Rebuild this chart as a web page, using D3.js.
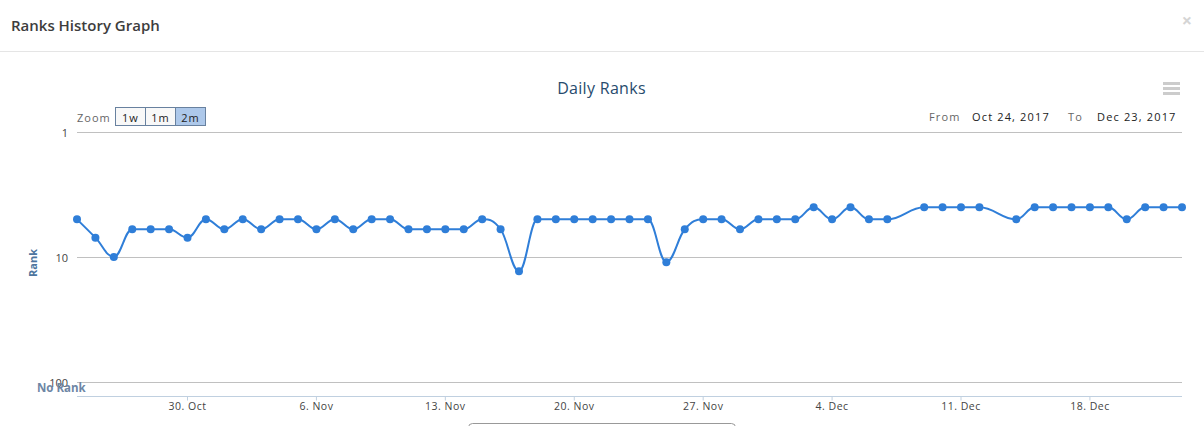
<!DOCTYPE html>
<html>
<head>
<meta charset="utf-8">
<script src="https://cdnjs.cloudflare.com/ajax/libs/d3/7.8.5/d3.min.js"></script>
<style>
  html, body { margin: 0; padding: 0; background: #fff; overflow: hidden; }
  svg { display: block; font-family: "Open Sans", sans-serif; }
</style>
</head>
<body>
<div id="content"></div>
<script>
var startDay = '2017-10-24';
// one value per day from startDay, null = no rank that day
var ranks = [
  5, 7, 10, 6, 6, 6, 7, 5, 6, 5, 6, 5, 5, 6, 5, 6, 5, 5, 6, 6, 6, 6, 5, 6, 13,
  5, 5, 5, 5, 5, 5, 5, 11, 6, 5, 5, 6, 5, 5, 5, 4, 5, 4, 5, 5, null, 4, 4, 4, 4,
  null, 5, 4, 4, 4, 4, 4, 5, 4, 4, 4
];
var tickDays = ['2017-10-30', '2017-11-06', '2017-11-13', '2017-11-20', '2017-11-27', '2017-12-04', '2017-12-11', '2017-12-18'];
var rankTicks = [1, 10, 100];
var zoomButtons = ['1w', '1m', '2m'];

var width = 1204, height = 426;
var svg = d3.select('#content').append('svg')
  .attr('width', width)
  .attr('height', height);

var parseDay = d3.utcParse('%Y-%m-%d');
var points = ranks.map(function(r, i) {
  return { date: d3.utcDay.offset(parseDay(startDay), i), rank: r };
}).filter(function(d) { return d.rank !== null; });

var x = d3.scaleUtc()
  .domain([parseDay(startDay), d3.utcDay.offset(parseDay(startDay), ranks.length - 1)])
  .range([77, 1182]);
var y = d3.scaleLog().domain([1, 100]).range([132, 382]);

// spline the way the original chart smooths its line
function splineCurve(context) {
  var pts;
  return {
    areaStart: function() {},
    areaEnd: function() {},
    lineStart: function() { pts = []; },
    point: function(px, py) { pts.push([+px, +py]); },
    lineEnd: function() {
      var smoothing = 1.5, denom = 2.5;
      var conts = pts.map(function(p, i) {
        var last = pts[i - 1], next = pts[i + 1];
        if (!last || !next) return { lx: p[0], ly: p[1], rx: p[0], ry: p[1] };
        var lx = (smoothing * p[0] + last[0]) / denom, ly = (smoothing * p[1] + last[1]) / denom;
        var rx = (smoothing * p[0] + next[0]) / denom, ry = (smoothing * p[1] + next[1]) / denom;
        var correction = ((ry - ly) * (rx - p[0])) / (rx - lx) + p[1] - ry;
        ly += correction;
        ry += correction;
        if (ly > last[1] && ly > p[1]) { ly = Math.max(last[1], p[1]); ry = 2 * p[1] - ly; }
        else if (ly < last[1] && ly < p[1]) { ly = Math.min(last[1], p[1]); ry = 2 * p[1] - ly; }
        if (ry > next[1] && ry > p[1]) { ry = Math.max(next[1], p[1]); ly = 2 * p[1] - ry; }
        else if (ry < next[1] && ry < p[1]) { ry = Math.min(next[1], p[1]); ly = 2 * p[1] - ry; }
        return { lx: lx, ly: ly, rx: rx, ry: ry };
      });
      pts.forEach(function(p, i) {
        if (i === 0) context.moveTo(p[0], p[1]);
        else context.bezierCurveTo(conts[i - 1].rx, conts[i - 1].ry, conts[i].lx, conts[i].ly, p[0], p[1]);
      });
    }
  };
}

// header of the dialog
svg.append('text').attr('x', 11).attr('y', 31)
  .attr('font-size', 15).attr('font-weight', 600).attr('fill', '#3d3d3d')
  .text('Ranks History Graph');
svg.append('text').attr('x', 1187).attr('y', 27).attr('text-anchor', 'middle')
  .attr('font-size', 18).attr('font-weight', 700).attr('fill', '#d5d5d5')
  .text('×');
svg.append('line').attr('x1', 0).attr('x2', width).attr('y1', 51.5).attr('y2', 51.5)
  .attr('stroke', '#e5e5e5');

svg.append('text').attr('x', 601.5).attr('y', 94).attr('text-anchor', 'middle')
  .attr('font-size', 16).attr('fill', '#274b6d').attr('letter-spacing', 0.3)
  .text('Daily Ranks');

// context menu icon
svg.selectAll('rect.menu').data([0, 1, 2]).enter().append('rect')
  .attr('class', 'menu')
  .attr('x', 1163).attr('y', function(d) { return 82 + d * 5; })
  .attr('width', 17).attr('height', 3)
  .attr('fill', '#ccc');

// y gridlines
var yAxis = d3.axisLeft(y).tickValues(rankTicks).tickFormat(d3.format('d')).tickSize(-1105).tickPadding(9);
var gy = svg.append('g').attr('transform', 'translate(77,0)').call(yAxis);
gy.select('.domain').remove();
gy.selectAll('.tick line').attr('stroke', '#c0c0c0');
gy.selectAll('.tick text')
  .attr('font-size', 11).attr('fill', '#444').attr('font-family', '"Open Sans", sans-serif')
  .attr('dy', 4);

svg.append('text')
  .attr('transform', 'translate(37,263) rotate(-90)')
  .attr('text-anchor', 'middle')
  .attr('font-size', 11).attr('font-weight', 700).attr('fill', '#4d759e')
  .text('Rank');
svg.append('text').attr('x', 37).attr('y', 392)
  .attr('font-size', 11.5).attr('font-weight', 700).attr('fill', '#6d86a5')
  .text('No Rank');

// x axis
var xAxis = d3.axisBottom(x)
  .tickValues(tickDays.map(parseDay))
  .tickFormat(d3.utcFormat('%-d. %b'))
  .tickSize(4).tickPadding(2)
  .offset(0);
var gx = svg.append('g').attr('transform', 'translate(0,396.5)').call(xAxis);
gx.select('.domain').attr('stroke', '#c0d0e0').attr('d', 'M77,0H1182');
gx.selectAll('.tick line').attr('stroke', '#c0d0e0');
gx.selectAll('.tick text')
  .attr('font-size', 10.5).attr('fill', '#444').attr('font-family', '"Open Sans", sans-serif')
  .attr('letter-spacing', 0.5);

// rank line
var line = d3.line()
  .x(function(d) { return x(d.date); })
  .y(function(d) { return y(d.rank); })
  .curve(splineCurve);
svg.append('path')
  .attr('d', line(points))
  .attr('fill', 'none')
  .attr('stroke', '#2f7ed8')
  .attr('stroke-width', 2);
svg.append('g').selectAll('circle').data(points).enter().append('circle')
  .attr('cx', function(d) { return x(d.date); })
  .attr('cy', function(d) { return y(d.rank); })
  .attr('r', 4)
  .attr('fill', '#2f7ed8');

// range selector
svg.append('text').attr('x', 77).attr('y', 122)
  .attr('font-size', 11).attr('fill', '#666').attr('letter-spacing', 1)
  .text('Zoom');
var btn = svg.selectAll('g.btn').data(zoomButtons).enter().append('g')
  .attr('class', 'btn')
  .attr('transform', function(d, i) { return 'translate(' + (115.5 + i * 30) + ',107.5)'; });
btn.append('rect')
  .attr('width', 30).attr('height', 18)
  .attr('fill', function(d) { return d === '2m' ? '#adc8ea' : '#f8f8f8'; })
  .attr('stroke', '#68819f');
btn.append('text').attr('x', 15).attr('y', 14).attr('text-anchor', 'middle')
  .attr('font-size', 11).attr('fill', '#222').attr('letter-spacing', 1)
  .text(function(d) { return d; });

var rangeLabels = [
  { t: 'From', x: 929, c: '#666' },
  { t: 'Oct 24, 2017', x: 972, c: '#222' },
  { t: 'To', x: 1068, c: '#666' },
  { t: 'Dec 23, 2017', x: 1097, c: '#222' }
];
svg.selectAll('text.range').data(rangeLabels).enter().append('text')
  .attr('class', 'range')
  .attr('x', function(d) { return d.x; })
  .attr('y', 121)
  .attr('font-size', 11).attr('letter-spacing', 1.15)
  .attr('fill', function(d) { return d.c; })
  .text(function(d) { return d.t; });

// top of the box cut off by the window
svg.append('rect').attr('x', 468.5).attr('y', 423.5).attr('width', 267).attr('height', 20).attr('rx', 4)
  .attr('fill', '#fff').attr('stroke', '#999');
</script>
</body>
</html>
